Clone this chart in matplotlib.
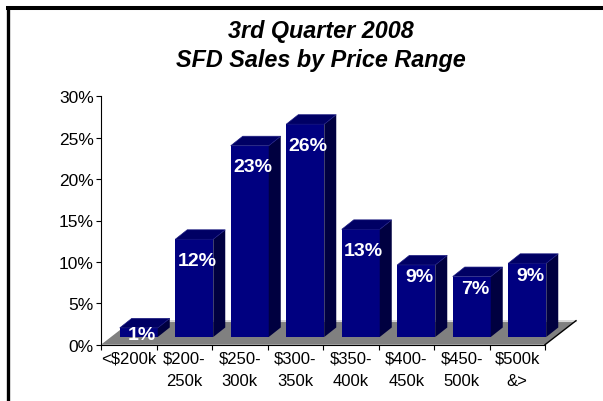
import matplotlib
matplotlib.use("Agg")
import matplotlib.pyplot as plt
from matplotlib.patches import Polygon
from matplotlib.lines import Line2D

plt.rcParams['font.family'] = ['Liberation Sans', 'DejaVu Sans']

categories = ["<$200k", "$200-\n250k", "$250-\n300k", "$300-\n350k", "$350-\n400k",
              "$400-\n450k", "$450-\n500k", "$500k\n&>"]
values = [1.1, 11.8, 23.1, 25.7, 13.0, 8.7, 7.3, 8.9]
y_ticks = [0, 5, 10, 15, 20, 25, 30]
y_tick_labels = ["0%", "5%", "10%", "15%", "20%", "25%", "30%"]
title_lines = ["3rd Quarter 2008", "SFD Sales by Price Range"]

W, H, DPI = 6.03, 4.02, 100
fig = plt.figure(figsize=(W, H), dpi=DPI)
fig.patch.set_facecolor("white")

# axes in pixels
ax_l, ax_r, ax_b, ax_t = 101, 545, 402 - 345.7, 402 - 97.3
ax = fig.add_axes([ax_l / 603, ax_b / 402, (ax_r - ax_l) / 603, (ax_t - ax_b) / 402])
n = len(categories)
ax.set_xlim(0, n)
ax.set_ylim(0, 30)
pxx = (ax_r - ax_l) / n        # px per category
pxy = (ax_t - ax_b) / 30.0     # px per percent

# depth geometry (pixels)
floor_dx, floor_dy = 31, 24
bar_front_dx, bar_front_dy = 10, 7.7
bar_dx, bar_dy = 12, 9.5
bar_w_px = 38

def u(dxp, dyp):
    return dxp / pxx, dyp / pxy

# floor
fdx, fdy = u(floor_dx, floor_dy)
floor = Polygon([(0, 0), (n, 0), (n + fdx, fdy), (fdx, fdy)], closed=True,
                facecolor="#808080", edgecolor="none", zorder=1, clip_on=False)
ax.add_patch(floor)
ax.add_line(Line2D([n, n + fdx], [0, fdy], color="black", lw=1, zorder=1.5, clip_on=False))
ax.add_line(Line2D([fdx, n + fdx], [fdy, fdy], color="#d8d8d8", lw=0.8, zorder=1.2, clip_on=False))

front_col = "#000080"
side_col = "#000040"
top_col = "#000064"

ox, oy = u(bar_front_dx, bar_front_dy)
ddx, ddy = u(bar_dx, bar_dy)
bw = bar_w_px / pxx
for i, v in enumerate(values):
    x0 = i + 0.5 - bw / 2 + ox
    x1 = x0 + bw
    y0 = oy
    y1 = oy + v
    ax.add_patch(Polygon([(x0, y0), (x1, y0), (x1, y1), (x0, y1)], closed=True,
                         facecolor=front_col, edgecolor="none", zorder=3, clip_on=False))
    ax.add_patch(Polygon([(x1, y0), (x1 + ddx, y0 + ddy), (x1 + ddx, y1 + ddy), (x1, y1)], closed=True,
                         facecolor=side_col, edgecolor="none", zorder=3, clip_on=False))
    ax.add_patch(Polygon([(x0, y1), (x1, y1), (x1 + ddx, y1 + ddy), (x0 + ddx, y1 + ddy)], closed=True,
                         facecolor=top_col, edgecolor="#1a1a80", lw=0.5, zorder=3, clip_on=False))
    label = f"{round(v)}%"
    off_px = 21 if len(label) == 3 else 12
    off_px = min(off_px, v * pxy * 0.7)
    ax.annotate(label, xy=((x0 + x1) / 2, y1), xytext=(3 * 72 / DPI, -off_px * 72 / DPI),
                textcoords="offset points", ha="center", va="center",
                color="white", fontsize=14, fontweight="bold", zorder=5,
                annotation_clip=False)

for s in ["top", "right"]:
    ax.spines[s].set_visible(False)
ax.spines["left"].set_color("black")
ax.spines["bottom"].set_color("black")
ax.spines["left"].set_linewidth(0.8)
ax.spines["bottom"].set_linewidth(0.8)
ax.spines["left"].set_zorder(2)
ax.spines["bottom"].set_zorder(2)
ax.patch.set_visible(False)

ax.set_yticks(y_ticks)
ax.set_yticklabels(y_tick_labels, fontsize=12.5)
ax.tick_params(axis="y", length=3.6, width=0.8, pad=1.5, direction="out")

ax.set_xticks([i + 0.5 for i in range(n)])
ax.set_xticklabels(categories, fontsize=12, linespacing=1.65)
ax.set_xticks(list(range(n + 1)), minor=True)
ax.tick_params(axis="x", which="major", length=0, pad=4)
ax.tick_params(axis="x", which="minor", length=3.6, width=0.8, direction="out")

# title
fig.text(321 / 603, 1 - 38 / 402, title_lines[0], ha="center", va="baseline",
         fontsize=16.8, fontweight="bold", fontstyle="italic")
fig.text(321 / 603, 1 - 67 / 402, title_lines[1], ha="center", va="baseline",
         fontsize=16.8, fontweight="bold", fontstyle="italic")

# border
fig.add_artist(Line2D([6 / 603, 1.0], [1 - 9 / 402, 1 - 9 / 402], transform=fig.transFigure,
                      color="black", lw=2.9, solid_capstyle="butt"))
fig.add_artist(Line2D([8 / 603, 8 / 603], [0, 1 - 7 / 402], transform=fig.transFigure,
                      color="black", lw=2.4, solid_capstyle="butt"))

fig.savefig("out.png", dpi=DPI)
